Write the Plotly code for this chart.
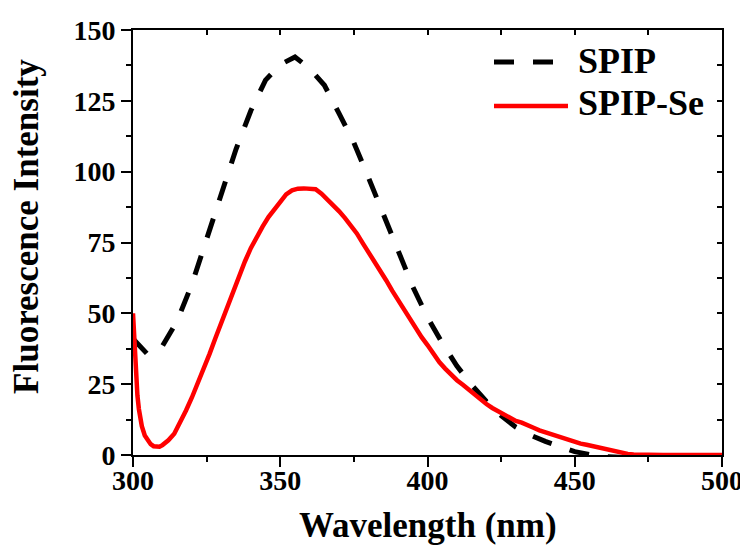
import plotly.graph_objects as go

# ---------------- data ----------------
wl_spip = [300, 305, 310, 315, 320, 325, 330, 335, 340, 345, 350, 355, 360, 365,
           370, 375, 380, 385, 390, 395, 400, 405, 410, 415, 420, 425, 430, 435,
           440, 445, 450, 455, 460, 470, 480, 490, 500]
int_spip = [41.0, 35.5, 38.5, 47.3, 60.3, 76.0, 92.5, 108.0, 121.5, 132.3, 137.8,
            140.5, 136.4, 130.5, 120.5, 110.2, 97.8, 85.0, 71.6, 59.4, 48.6, 39.5,
            31.4, 24.7, 18.9, 13.9, 9.8, 7.0, 4.8, 2.8, 1.2, 0.2, -0.6, -1.0, -1.0,
            -1.0, -1.0]

wl_se = [300, 300.5, 301, 301.5, 302, 303, 304, 305, 306, 307, 308, 309, 310, 312, 314,
         316, 318, 320, 322, 324, 326, 328, 330, 332, 334, 336, 338, 340, 342,
         344, 346, 348, 350, 352, 354, 356, 358, 360, 362, 364, 366, 368, 370,
         372, 374, 376, 378, 380, 382, 384, 386, 388, 390, 392, 394, 396, 398,
         400, 402, 404, 406, 408, 410, 412, 414, 416, 418, 420, 422, 424, 426,
         428, 430, 432, 434, 436, 438, 440, 442, 444, 446, 448, 450, 452, 454,
         456, 458, 460, 462, 464, 466, 468, 470, 472, 475, 480, 490, 500]
int_se = [50.0, 38.0, 27.5, 21.0, 16.2, 10.2, 6.9, 5.0, 3.8, 3.1, 2.8, 2.9, 3.5, 5.2, 7.5,
          11.2, 15.7, 20.3, 25.2, 30.4, 35.7, 41.3, 46.8, 52.4, 58.0, 63.3, 68.3,
          73.0, 77.0, 80.6, 84.0, 86.8, 89.5, 92.0, 93.4, 94.0, 94.1, 94.0, 93.8,
          92.2, 90.2, 88.2, 86.0, 83.6, 81.0, 78.2, 74.8, 71.6, 68.4, 65.2, 61.6,
          58.0, 54.6, 51.4, 48.4, 44.6, 41.6, 38.8, 35.6, 32.8, 30.5, 28.4, 26.4,
          24.8, 23.0, 21.2, 19.5, 18.0, 16.6, 15.4, 14.2, 12.9, 12.0, 11.4, 10.7,
          9.6, 8.7, 8.0, 7.4, 6.6, 5.8, 5.1, 4.5, 4.0, 3.6, 3.1, 2.7, 2.2, 1.7,
          1.3, 0.8, 0.4, 0.2, 0.1, 0.0, 0.0, 0.0, 0.0]

series_names = ["SPIP", "SPIP-Se"]
x_ticks = [300, 350, 400, 450, 500]
y_ticks = [0, 25, 50, 75, 100, 125, 150]
x_title = "Wavelength (nm)"
y_title = "Fluorescence Intensity"

FONT = "Liberation Serif, Times New Roman, serif"

fig = go.Figure()
fig.add_trace(go.Scatter(x=wl_spip, y=int_spip, mode="lines", name=series_names[0],
                         line=dict(color="black", width=5, dash="20px,19px"),
                         showlegend=False))
fig.add_trace(go.Scatter(x=wl_se, y=int_se, mode="lines", name=series_names[1],
                         line=dict(color="#ff0000", width=4.5),
                         showlegend=False))
# dummy trace for mirrored (inside) tick axes
fig.add_trace(go.Scatter(x=[None], y=[None], xaxis="x2", yaxis="y2",
                         showlegend=False, hoverinfo="skip"))

tickfont = dict(family=FONT, size=28, color="black", weight="bold")

# page body has an 8px margin, so the figure is sized/offset to compensate
fig.update_layout(
    width=740, height=546,
    margin=dict(l=125, r=26, t=22, b=99, autoexpand=False),
    paper_bgcolor="white", plot_bgcolor="white",
    showlegend=False,
    xaxis=dict(range=[300, 500], tickvals=x_ticks, ticks="outside", ticklen=10,
               tickwidth=2, tickcolor="black", showline=True, linewidth=2,
               linecolor="black", mirror=True, showgrid=False, zeroline=False,
               tickfont=tickfont, layer="below traces", automargin=False,
               ticklabelstandoff=-11,
               minor=dict(tick0=300, dtick=25, ticks="outside", ticklen=5,
                          tickwidth=2, tickcolor="black")),
    yaxis=dict(range=[0, 150], tickvals=y_ticks, ticks="outside", ticklen=10,
               tickwidth=2, tickcolor="black", showline=True, linewidth=2,
               linecolor="black", mirror=True, showgrid=False, zeroline=False,
               tickfont=tickfont, layer="below traces", automargin=False,
               ticklabelstandoff=0,
               minor=dict(tick0=0, dtick=12.5, ticks="outside", ticklen=5,
                          tickwidth=2, tickcolor="black")),
    xaxis2=dict(overlaying="x", side="top", anchor="y", range=[300, 500],
                tick0=300, dtick=25, ticks="inside", ticklen=5, tickwidth=2,
                tickcolor="black", showticklabels=False, showline=False,
                showgrid=False, zeroline=False, automargin=False),
    yaxis2=dict(overlaying="y", side="right", anchor="x", range=[0, 150],
                tick0=0, dtick=12.5, ticks="inside", ticklen=5, tickwidth=2,
                tickcolor="black", showticklabels=False, showline=False,
                showgrid=False, zeroline=False, automargin=False),
)

# axis titles
fig.add_annotation(text=x_title, xref="paper", yref="paper", x=0.5, y=-0.165,
                   xanchor="center", yanchor="middle", showarrow=False,
                   font=dict(family=FONT, size=35, color="black", weight="bold"))
fig.add_annotation(text=y_title, xref="paper", yref="paper", x=-0.18, y=0.539,
                   xanchor="center", yanchor="middle", textangle=-90, showarrow=False,
                   font=dict(family=FONT, size=35, color="black", weight="bold"))

# legend (drawn manually to match the long sample lines)
def px_x(px):
    return (px - 133) / 589.0

def px_y(py):
    return (455 - py) / 425.0

fig.add_shape(type="line", xref="paper", yref="paper",
              x0=px_x(494), x1=px_x(554), y0=px_y(62), y1=px_y(62),
              line=dict(color="black", width=5, dash="20px,19px"))
fig.add_shape(type="line", xref="paper", yref="paper",
              x0=px_x(494), x1=px_x(568), y0=px_y(106), y1=px_y(106),
              line=dict(color="#ff0000", width=4.5))
fig.add_annotation(text=series_names[0], xref="paper", yref="paper",
                   x=px_x(576), y=px_y(61), xanchor="left", yanchor="middle",
                   showarrow=False,
                   font=dict(family=FONT, size=36, color="black", weight="bold"))
fig.add_annotation(text=series_names[1], xref="paper", yref="paper",
                   x=px_x(576), y=px_y(103), xanchor="left", yanchor="middle",
                   showarrow=False,
                   font=dict(family=FONT, size=36, color="black", weight="bold"))

fig.write_html("out.html")
